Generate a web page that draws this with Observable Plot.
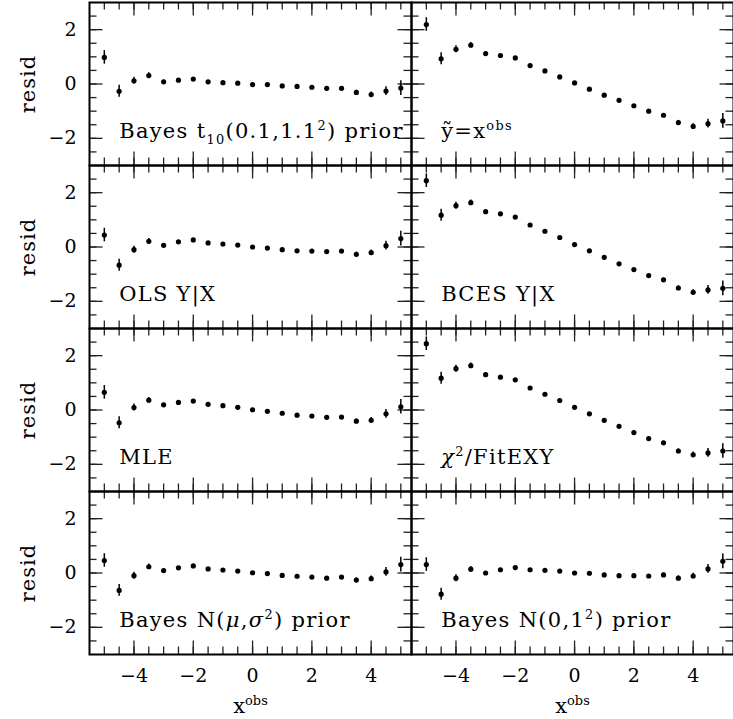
<!DOCTYPE html>
<html><head><meta charset="utf-8">
<script src="https://cdn.jsdelivr.net/npm/d3@7"></script>
<script src="https://cdn.jsdelivr.net/npm/@observablehq/plot@0.6"></script>
<style>html,body{margin:0;padding:0;background:#fff}</style>
</head><body><div id="chart"></div>
<script>
// ---- data ----
const xObs = [-5,-4.5,-4,-3.5,-3,-2.5,-2,-1.5,-1,-0.5,0,0.5,1,1.5,2,2.5,3,3.5,4,4.5,5];
const errBar = [0.25,0.22,0.13,0.1,0.06,0.05,0.05,0.05,0.05,0.05,0.05,0.05,0.05,0.05,0.05,0.05,0.06,0.08,0.1,0.16,0.27];
const residBayesT10 = [0.98,-0.27,0.12,0.31,0.08,0.14,0.18,0.08,0.05,0.03,-0.02,-0.02,-0.07,-0.09,-0.12,-0.16,-0.16,-0.31,-0.39,-0.26,-0.15];
const residYeqX     = [2.19,0.93,1.28,1.43,1.12,1.05,0.96,0.68,0.48,0.26,0.04,-0.19,-0.41,-0.60,-0.80,-1.00,-1.15,-1.42,-1.56,-1.46,-1.36];
const residOLS      = [0.44,-0.67,-0.10,0.21,0.06,0.19,0.26,0.15,0.11,0.07,0.00,-0.04,-0.10,-0.14,-0.15,-0.17,-0.15,-0.27,-0.21,0.05,0.31];
const residBCES     = [2.44,1.17,1.52,1.63,1.30,1.22,1.10,0.81,0.58,0.35,0.09,-0.14,-0.38,-0.62,-0.83,-1.05,-1.21,-1.51,-1.67,-1.58,-1.52];
const residMLE      = [0.65,-0.47,0.09,0.36,0.19,0.28,0.33,0.21,0.16,0.10,0.01,-0.05,-0.12,-0.19,-0.22,-0.27,-0.26,-0.41,-0.38,-0.14,0.12];
const residFitEXY   = [2.44,1.17,1.52,1.63,1.30,1.21,1.11,0.81,0.58,0.35,0.10,-0.14,-0.38,-0.60,-0.83,-1.05,-1.21,-1.51,-1.65,-1.58,-1.51];
const residBayesNmu = [0.46,-0.64,-0.10,0.23,0.09,0.19,0.26,0.15,0.11,0.07,0.01,-0.02,-0.09,-0.12,-0.15,-0.19,-0.15,-0.26,-0.21,0.04,0.31];
const residBayesN01 = [0.31,-0.78,-0.19,0.14,0.00,0.12,0.20,0.12,0.10,0.07,0.00,-0.01,-0.07,-0.10,-0.10,-0.11,-0.07,-0.19,-0.11,0.15,0.43];

const panelSeries = [residBayesT10, residYeqX, residOLS, residBCES, residMLE, residFitEXY, residBayesNmu, residBayesN01];
const panelLabels = [
  "Bayes t_{10}(0.1,1.1^{2}) prior",
  "ỹ=x^{obs}",
  "OLS Y|X",
  "BCES Y|X",
  "MLE",
  "~{χ}^{2}/FitEXY",
  "Bayes N(~{μ},~{σ}^{2}) prior",
  "Bayes N(0,1^{2}) prior"
];
const panelCols = ["L","R","L","R","L","R","L","R"];
const panelRows = [0,0,1,1,2,2,3,3];

const xTickLabels = [-4,-2,0,2,4];
const yTickLabels = [-2,0,2];
const xMinorTicks = [-5,-4.5,-4,-3.5,-3,-2.5,-2,-1.5,-1,-0.5,0,0.5,1,1.5,2,2.5,3,3.5,4,4.5,5];
const xMajorTicks = [-4,-2,0,2,4];
const yMinorTicks = [-2.5,-2,-1.5,-1,-0.5,0,0.5,1,1.5,2,2.5];
const yMajorTicks = [-2,0,2];
const yLabelText = "resid";
const xLabelText = "x^{obs}";

// ---- build table ----
const table = [];
panelSeries.forEach((vals, p) => {
  vals.forEach((v, i) => table.push({x: xObs[i], y: v, e: errBar[i], col: panelCols[p], row: panelRows[p]}));
});
const labelRows = panelLabels.map((t, p) => ({text: t, col: panelCols[p], row: panelRows[p]}));

// ---- layout ----
const WIDTH = 733, HEIGHT = 719, ML = 88, MR = 0, MT = 1, MB = 64;
const PW = (WIDTH - ML - MR) / 2, PH = (HEIGHT - MT - MB) / 4;
const MAJ = 14, MIN = 8, FS = 19, LFS = 21, TFS = 21;
const tickStyle = {stroke: "#222", strokeWidth: 1.3};

const chart = Plot.plot({
  width: WIDTH, height: HEIGHT,
  marginLeft: ML, marginRight: MR, marginTop: MT, marginBottom: MB,
  x: {domain: [-5.5, 5.36], label: null},
  y: {domain: [-3, 3], label: null},
  fx: {domain: ["L","R"], padding: 0, axis: null, label: null},
  fy: {domain: [0,1,2,3], padding: 0, axis: null, label: null},
  style: {fontFamily: "'DejaVu Serif', serif", fontSize: FS + "px", color: "black", background: "white"},
  marks: [
    // ticks on all four sides, pointing inward
    Plot.tickX(xMinorTicks, {x: d => d, insetTop: PH - MIN, ...tickStyle}),
    Plot.tickX(xMinorTicks, {x: d => d, insetBottom: PH - MIN, ...tickStyle}),
    Plot.tickX(xMajorTicks, {x: d => d, insetTop: PH - MAJ, ...tickStyle}),
    Plot.tickX(xMajorTicks, {x: d => d, insetBottom: PH - MAJ, ...tickStyle}),
    Plot.tickY(yMinorTicks, {y: d => d, insetRight: PW - MIN, ...tickStyle}),
    Plot.tickY(yMinorTicks, {y: d => d, insetLeft: PW - MIN, ...tickStyle}),
    Plot.tickY(yMajorTicks, {y: d => d, insetRight: PW - MAJ, ...tickStyle}),
    Plot.tickY(yMajorTicks, {y: d => d, insetLeft: PW - MAJ, ...tickStyle}),
    Plot.frame({stroke: "black", strokeWidth: 2}),
    // error bars and points
    Plot.ruleX(table, {x: "x", y1: d => d.y - d.e, y2: d => d.y + d.e, fx: "col", fy: "row", stroke: "black", strokeWidth: 1.5}),
    Plot.dot(table, {x: "x", y: "y", fx: "col", fy: "row", r: 2.6, fill: "black", stroke: "none"}),
    // panel labels
    Plot.text(labelRows, {x: -4.5, y: -2, text: "text", fx: "col", fy: "row", textAnchor: "start", lineAnchor: "bottom", fontSize: LFS}),
    // axes
    Plot.axisX(xTickLabels, {tickSize: 0, tickPadding: 14, label: null, fontSize: FS}),
    Plot.axisY(yTickLabels, {tickSize: 0, tickPadding: 13, label: null, fontSize: FS}),
    // axis titles
    Plot.text([0,1,2,3], {fy: d => d, fx: () => "L", text: () => yLabelText, frameAnchor: "left", rotate: -90, dx: -61, textAnchor: "middle", fontSize: TFS}),
    Plot.text(["L","R"], {fx: d => d, fy: () => 3, text: () => xLabelText, frameAnchor: "bottom", dy: 58, textAnchor: "middle", fontSize: TFS})
  ]
});

// letter spacing for the panel labels and axis titles (wide plotting font in the reference)
chart.querySelectorAll("text").forEach(t => {
  const s = t.textContent;
  if (panelLabels.includes(s)) t.style.letterSpacing = "1.3px";
  if (s === yLabelText) t.style.letterSpacing = "1px";
});

// rich text: ^{sup}, _{sub}, ~{italic}
function richify(svg) {
  svg.querySelectorAll("text").forEach(t => {
    const s = t.textContent;
    if (!/[\^_~]\{/.test(s)) return;
    const fs = parseFloat(t.getAttribute("font-size")) || FS;
    while (t.firstChild) t.removeChild(t.firstChild);
    const parts = s.split(/([\^_~]\{[^}]*\})/).filter(p => p);
    let cur = 0;
    const NS = "http://www.w3.org/2000/svg";
    for (const p of parts) {
      const ts = document.createElementNS(NS, "tspan");
      let target = 0, txt = p;
      if (p.startsWith("^{")) { target = -0.42 * fs; txt = p.slice(2, -1); ts.setAttribute("font-size", 0.68 * fs); }
      else if (p.startsWith("_{")) { target = 0.28 * fs; txt = p.slice(2, -1); ts.setAttribute("font-size", 0.68 * fs); }
      else if (p.startsWith("~{")) { txt = p.slice(2, -1); ts.setAttribute("font-style", "italic"); }
      const d = target - cur;
      if (d !== 0) ts.setAttribute("dy", d);
      cur = target;
      ts.textContent = txt;
      t.appendChild(ts);
    }
  });
}
richify(chart);
document.getElementById("chart").appendChild(chart);
</script>
</body></html>
